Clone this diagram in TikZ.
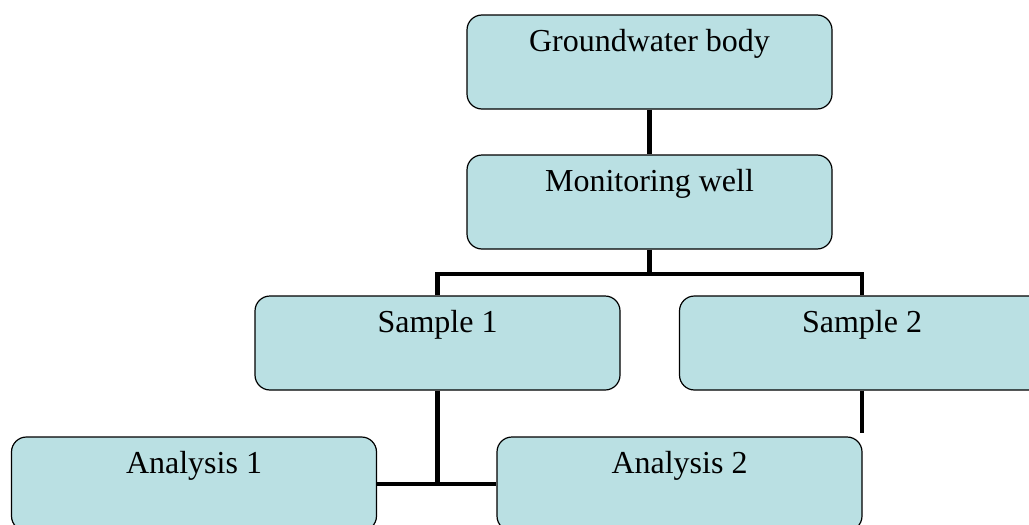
\documentclass[tikz,border=0pt]{standalone}
\usepackage{fontspec}
\setmainfont{Liberation Serif}
\definecolor{boxfill}{RGB}{186,224,227}
\tikzset{
  orgbox/.style={draw=black, line width=1.2pt, fill=boxfill, rounded corners=15pt,
    minimum width=365pt, minimum height=94pt, inner sep=0pt,
    text height=30pt, text depth=52pt,
    font=\fontsize{32}{37}\selectfont},
  link/.style={line width=4.5pt, draw=black}
}
\begin{document}
\begin{tikzpicture}[x=1pt,y=-1pt]
\useasboundingbox (0,0) rectangle (1029,525);
\clip (0,0) rectangle (1029,525);
\fill[white] (0,0) rectangle (1029,525);
\node[orgbox] (gw) at (649.5,62) {Groundwater body};
\node[orgbox] (mw) at (649.5,202) {Monitoring well};
\node[orgbox] (s1) at (437.5,343) {Sample 1};
\node[orgbox] (s2) at (862,343) {Sample 2};
\node[orgbox] (a1) at (194,484) {Analysis 1};
\node[orgbox] (a2) at (679.5,484) {Analysis 2};
\coordinate (bar) at (649.5,274);
\coordinate (s2end) at (862,433);
\draw[link] (gw.south) -- (mw.north);
\draw[link] (mw.south) -- (bar);
\draw[link] (s1.north) |- (bar) -| (s2.north);
\draw[link] (s2.south) -- (s2end);
\draw[link] (s1.south) -- (s1.south |- a1.east);
\draw[link] (a1.east) -- (a2.west);
\end{tikzpicture}
\end{document}
